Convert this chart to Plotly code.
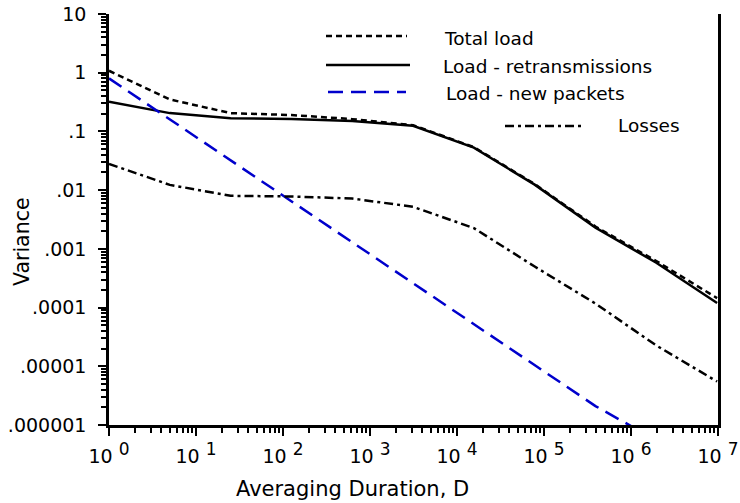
import plotly.graph_objects as go

# Averaging duration D (knots at powers of 5)
duration = [1, 5, 25, 125, 625, 3125, 15625, 78125, 390625, 1953125, 9765625]

total_load = [1.08, 0.35, 0.205, 0.19, 0.162, 0.128, 0.054, 0.0127, 0.0024, 0.00062, 0.000145]
load_retrans = [0.32, 0.205, 0.168, 0.163, 0.151, 0.125, 0.053, 0.0124, 0.0023, 0.00058, 0.00012]
load_new = [0.8, 0.16, 0.032, 0.0064, 0.00128, 0.000256, 0.000051, 0.0000102, 0.0000021, 0.00000055]
losses = [0.028, 0.0123, 0.0080, 0.0078, 0.0072, 0.0052, 0.00226, 0.0005, 0.000117, 0.0000226, 0.0000055]

y_tickvals = [10, 1, 0.1, 0.01, 0.001, 0.0001, 0.00001, 0.000001]
y_ticktext = ["10", "1", ".1", ".01", ".001", ".0001", ".00001", ".000001"]
x_tickvals = [1, 10, 100, 1000, 10000, 100000, 1000000, 10000000]
x_ticktext = ["10 <sup><span style='font-size:17px'>%d</span></sup>" % i for i in range(8)]

legend_names = ["Total load", "Load - retransmissions", "Load - new packets", "Losses"]

FONT = "DejaVu Sans"
fig = go.Figure()

fig.add_trace(go.Scatter(x=duration, y=total_load, mode="lines", name=legend_names[0],
                         line=dict(color="black", width=2.5, dash="6px,4px")))
fig.add_trace(go.Scatter(x=duration, y=load_retrans, mode="lines", name=legend_names[1],
                         line=dict(color="black", width=2.5)))
fig.add_trace(go.Scatter(x=duration[:len(load_new)], y=load_new, mode="lines", name=legend_names[2],
                         line=dict(color="#0000cc", width=2.5, dash="15px,8px")))
fig.add_trace(go.Scatter(x=duration, y=losses, mode="lines", name=legend_names[3],
                         line=dict(color="black", width=2.5, dash="9px,4px,3px,4px")))

# manual legend (irregular layout as in reference)
leg = [
    (326, 407, 36, 442, 38, "6px,4px", "black"),
    (326, 410, 65, 441, 66, "solid", "black"),
    (328, 406, 92, 444, 93, "15px,8px", "#0000cc"),
    (505, 585, 126, 616, 125, "9px,4px,3px,4px", "black"),
]
W, H = 740, 503
L, R, T, B = 109, 22, 14, 78
pw, ph = W - L - R, H - T - B
for (x0, x1, yl, xt, yt, dash, col), name in zip(leg, legend_names):
    fig.add_shape(type="line", xref="paper", yref="paper",
                  x0=(x0 - L) / pw, x1=(x1 - L) / pw,
                  y0=1 - (yl - T) / ph, y1=1 - (yl - T) / ph,
                  line=dict(color=col, width=2.5, dash=dash))
    fig.add_annotation(xref="paper", yref="paper", x=(xt - L) / pw, y=1 - (yt - T) / ph,
                       text=name, showarrow=False, xanchor="left", yanchor="middle",
                       font=dict(family=FONT, size=18.5, color="black"))

# axis titles as free text, placed as in the reference
fig.add_annotation(xref="paper", yref="paper", x=(22 - L) / pw, y=1 - (242 - T) / ph,
                   text="Variance", textangle=-90, showarrow=False,
                   xanchor="center", yanchor="middle",
                   font=dict(family=FONT, size=20.5, color="black"))
fig.add_annotation(xref="paper", yref="paper", x=(352 - L) / pw, y=1 - (489 - T) / ph,
                   text="Averaging Duration, D", showarrow=False,
                   xanchor="center", yanchor="middle",
                   font=dict(family=FONT, size=21, color="black"))

minor_x = [m * 10 ** e for e in range(7) for m in range(2, 10)]
minor_y = [m * 10.0 ** e for e in range(-6, 1) for m in range(2, 10)]

fig.update_layout(
    width=W, height=H,
    margin=dict(l=L, r=R, t=T, b=B),
    plot_bgcolor="white", paper_bgcolor="white",
    showlegend=False,
    font=dict(family=FONT, size=19, color="black"),
    xaxis=dict(type="log", range=[0, 7], tickmode="array", tickvals=x_tickvals, ticktext=x_ticktext,
               showgrid=False, zeroline=False, showline=True, linecolor="black", linewidth=2.5,
               ticks="outside", ticklen=8, tickwidth=2, tickcolor="black", mirror=False,
               tickfont=dict(size=19), ticklabelstandoff=4, automargin=False,
               minor=dict(tickmode="array", tickvals=minor_x, ticks="outside", ticklen=5,
                          tickwidth=2, tickcolor="black", showgrid=False)),
    yaxis=dict(type="log", range=[-6, 1], tickmode="array", tickvals=y_tickvals, ticktext=y_ticktext,
               showgrid=False, zeroline=False, showline=True, linecolor="black", linewidth=2.5,
               ticks="outside", ticklen=8, tickwidth=2, tickcolor="black", mirror=True,
               tickfont=dict(size=19), ticklabelstandoff=8, automargin=False,
               minor=dict(tickmode="array", tickvals=minor_y, ticks="outside", ticklen=5,
                          tickwidth=2, tickcolor="black", showgrid=False)),
)

fig.write_html("out.html")
